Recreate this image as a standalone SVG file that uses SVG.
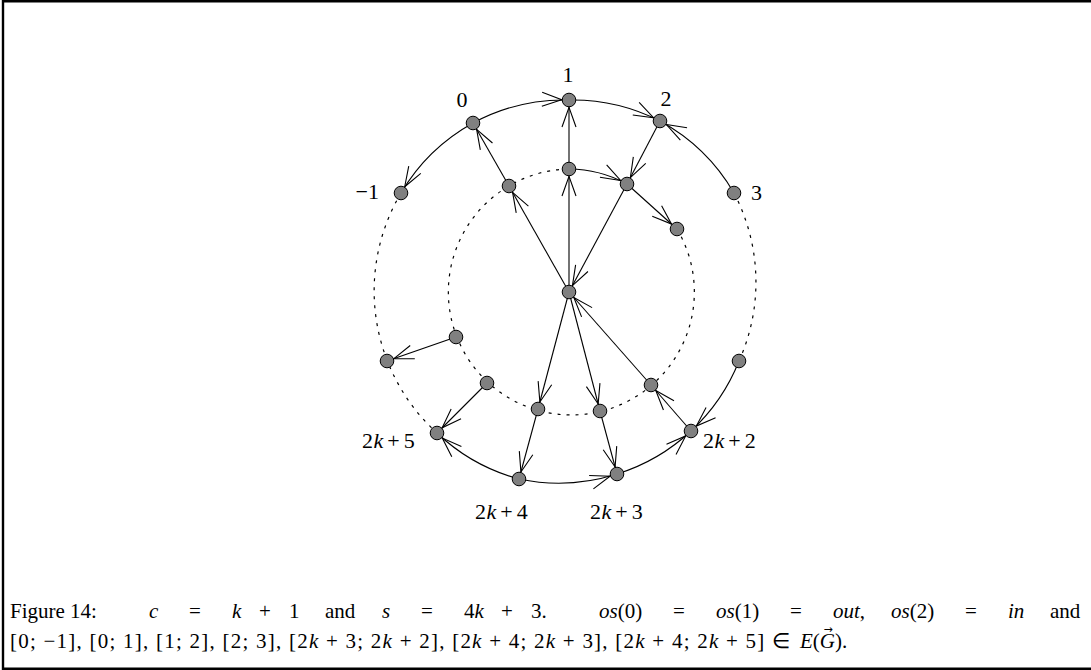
<svg xmlns="http://www.w3.org/2000/svg" width="1091" height="670" viewBox="0 0 1091 670">
<style>
.e{fill:none;stroke:#000;stroke-width:1.1;marker-end:url(#ar)}
.d{fill:none;stroke:#000;stroke-width:1.2;stroke-dasharray:3 6}
.n{fill:#808080;stroke:#000;stroke-width:1}
.t{font-family:"Liberation Serif","Times New Roman",serif;font-size:21px;fill:#000}
.l{font-family:"Liberation Serif","Times New Roman",serif;font-size:22px;fill:#000}
.i{font-style:italic}
</style>
<defs>
<marker id="ar" markerUnits="userSpaceOnUse" orient="auto" viewBox="-30 -10 32 20" markerWidth="32" markerHeight="20" refX="0" refY="0">
<path d="M-27,-7 L-7.3,0 L-27,7" fill="none" stroke="#000" stroke-width="1.1"/>
</marker>
</defs>
<path d="M1091,1.2 H3 V668.8 H1091" fill="none" stroke="#000" stroke-width="2.4"/>
<g id="connectors">
<path class="d" d="M401,193 A192,192 0 0 0 437,433"/>
<path class="d" d="M734,193 A192,192 0 0 1 739,361"/>
<path class="d" d="M677,229 A123,123 0 1 1 569,169"/>
<path class="e" d="M473,123 A192,192 0 0 1 569,100"/>
<path class="e" d="M473,123 A192,192 0 0 0 401,193"/>
<path class="e" d="M569,100 A192,192 0 0 1 660,121"/>
<path class="e" d="M734,193 A192,192 0 0 0 660,121"/>
<path class="e" d="M739,361 A192,192 0 0 1 691,431"/>
<path class="e" d="M617,474 A192,192 0 0 0 691,431"/>
<path class="e" d="M519,479 A192,192 0 0 0 617,474"/>
<path class="e" d="M519,479 A192,192 0 0 1 437,433"/>
<path class="e" d="M569,169 A123,123 0 0 1 627,184"/>
<path class="e" d="M509,186 L473,123"/>
<path class="e" d="M569,292 L509,186"/>
<path class="e" d="M569,292 L569,169"/>
<path class="e" d="M569,169 L569,100"/>
<path class="e" d="M660,121 L627,184"/>
<path class="e" d="M627,184 L569,292"/>
<path class="e" d="M627,184 L677,229"/>
<path class="e" d="M569,292 L538,409"/>
<path class="e" d="M569,292 L600,411"/>
<path class="e" d="M651,385 L569,292"/>
<path class="e" d="M691,431 L651,385"/>
<path class="e" d="M538,409 L519,479"/>
<path class="e" d="M600,411 L617,474"/>
<path class="e" d="M487,383 L437,433"/>
<path class="e" d="M456,337 L387,361"/>
</g>
<g id="v1"><circle class="n" cx="569" cy="100" r="6.8"/><text class="l" x="568" y="82" text-anchor="middle">1</text></g>
<g id="v0"><circle class="n" cx="473" cy="123" r="6.8"/><text class="l" x="462" y="107" text-anchor="middle">0</text></g>
<g id="v2"><circle class="n" cx="660" cy="121" r="6.8"/><text class="l" x="666" y="106" text-anchor="middle">2</text></g>
<g id="vm1"><circle class="n" cx="401" cy="193" r="6.8"/><text class="l" x="379" y="199" text-anchor="end">−1</text></g>
<g id="v3"><circle class="n" cx="734" cy="193" r="6.8"/><text class="l" x="751" y="200">3</text></g>
<g id="iT"><circle class="n" cx="569" cy="169" r="6.8"/></g>
<g id="iL"><circle class="n" cx="509" cy="186" r="6.8"/></g>
<g id="iR"><circle class="n" cx="627" cy="184" r="6.8"/></g>
<g id="iR2"><circle class="n" cx="677" cy="229" r="6.8"/></g>
<g id="center"><circle class="n" cx="569" cy="292" r="6.8"/></g>
<g id="iLL"><circle class="n" cx="456" cy="337" r="6.8"/></g>
<g id="oL"><circle class="n" cx="387" cy="361" r="6.8"/></g>
<g id="iB1"><circle class="n" cx="487" cy="383" r="6.8"/></g>
<g id="iBL"><circle class="n" cx="538" cy="409" r="6.8"/></g>
<g id="iBR"><circle class="n" cx="600" cy="411" r="6.8"/></g>
<g id="iLR"><circle class="n" cx="651" cy="385" r="6.8"/></g>
<g id="oR"><circle class="n" cx="739" cy="361" r="6.8"/></g>
<g id="v2k2"><circle class="n" cx="691" cy="431" r="6.8"/><text class="l" x="703" y="448">2<tspan class="i" dx="0.5">k</tspan><tspan dx="4">+</tspan><tspan dx="4">2</tspan></text></g>
<g id="v2k5"><circle class="n" cx="437" cy="433" r="6.8"/><text class="l" x="362" y="448">2<tspan class="i" dx="0.5">k</tspan><tspan dx="4">+</tspan><tspan dx="4">5</tspan></text></g>
<g id="v2k4"><circle class="n" cx="519" cy="479" r="6.8"/><text class="l" x="475" y="519">2<tspan class="i" dx="0.5">k</tspan><tspan dx="4">+</tspan><tspan dx="4">4</tspan></text></g>
<g id="v2k3"><circle class="n" cx="617" cy="474" r="6.8"/><text class="l" x="590" y="519">2<tspan class="i" dx="0.5">k</tspan><tspan dx="4">+</tspan><tspan dx="4">3</tspan></text></g>
<g id="caption">
<text class="t" x="10" y="618">Figure 14:</text>
<text class="t i" x="149" y="618">c</text>
<text class="t" x="189" y="618">=</text>
<text class="t i" x="232" y="618">k</text>
<text class="t" x="259" y="618">+</text>
<text class="t" x="289" y="618">1</text>
<text class="t" x="325" y="618">and</text>
<text class="t i" x="382" y="618">s</text>
<text class="t" x="421" y="618">=</text>
<text class="t" x="464" y="618">4<tspan class="i">k</tspan></text>
<text class="t" x="501" y="618">+</text>
<text class="t" x="531" y="618">3.</text>
<text class="t" x="599" y="618"><tspan class="i">os</tspan>(0)</text>
<text class="t" x="673" y="618">=</text>
<text class="t" x="716" y="618"><tspan class="i">os</tspan>(1)</text>
<text class="t" x="790" y="618">=</text>
<text class="t i" x="833" y="618">out<tspan font-style="normal">,</tspan></text>
<text class="t" x="891" y="618"><tspan class="i">os</tspan>(2)</text>
<text class="t" x="965" y="618">=</text>
<text class="t i" x="1008" y="618">in</text>
<text class="t" x="1050" y="618">and</text>
<text class="t" x="10" y="648" textLength="780" lengthAdjust="spacing">[0; −1], [0; 1], [1; 2], [2; 3], [2<tspan class="i">k</tspan> + 3; 2<tspan class="i">k</tspan> + 2], [2<tspan class="i">k</tspan> + 4; 2<tspan class="i">k</tspan> + 3], [2<tspan class="i">k</tspan> + 4; 2<tspan class="i">k</tspan> + 5] ∈</text>
<text class="t" x="800" y="648"><tspan class="i">E</tspan>(<tspan class="i">G</tspan>).</text>
<text x="828" y="633" text-anchor="middle" style="font-family:'DejaVu Sans',sans-serif;font-size:11px">→</text>
</g>
</svg>
